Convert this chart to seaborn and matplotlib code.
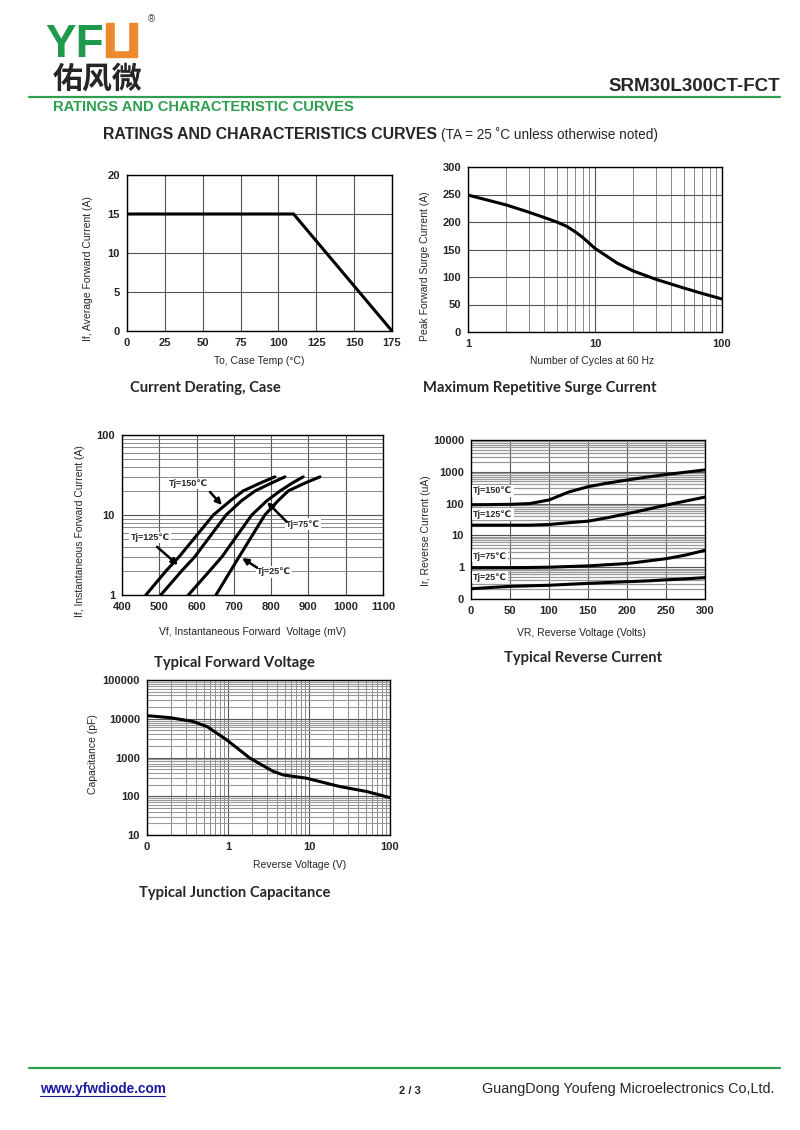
import numpy as np
import pandas as pd
import seaborn as sns
import matplotlib.pyplot as plt
from matplotlib.patches import Rectangle
from matplotlib.lines import Line2D
from matplotlib.ticker import LogLocator, NullFormatter

# ---- data ----
derate_temp = [0, 110, 175]
derate_current = [15, 15, 0]

surge_cycles = [1, 2, 3, 4, 5, 6, 7, 8, 10, 15, 20, 30, 50, 70, 100]
surge_current = [249, 231, 218, 208, 200, 192, 182, 172, 152, 125, 111, 96, 80, 70, 60]

fwd_amps = [1, 2, 3, 10, 15, 20, 25, 30]
fwd_mv_150 = [464, 518, 553, 645, 690, 725, 770, 810]
fwd_mv_125 = [504, 560, 595, 679, 720, 757, 800, 837]
fwd_mv_75 = [578, 635, 668, 748, 788, 824, 856, 886]
fwd_mv_25 = [652, 691, 714, 783, 818, 846, 890, 931]

rev_volts = [0, 25, 50, 75, 100, 125, 150, 175, 200, 225, 250, 275, 300]
rev_ua_150 = [92, 93, 95, 100, 130, 230, 340, 440, 550, 680, 820, 970, 1150]
rev_ua_125 = [21, 21, 21, 21, 22, 25, 28, 36, 48, 65, 90, 120, 160]
rev_ua_75 = [0.97, 0.97, 0.97, 0.98, 1.0, 1.05, 1.1, 1.2, 1.3, 1.55, 1.85, 2.4, 3.4]
rev_ua_25 = [0.21, 0.23, 0.25, 0.26, 0.27, 0.29, 0.31, 0.33, 0.35, 0.37, 0.40, 0.43, 0.47]

cap_volts = [0.1, 0.19, 0.37, 0.55, 0.96, 1.87, 3.6, 4.8, 9.3, 24, 52, 100]
cap_pf = [12000, 10700, 8500, 6300, 2870, 960, 440, 355, 292, 178, 132, 92]

sns.set_theme(style="white")
plt.rcParams['font.family'] = ['Liberation Sans', 'DejaVu Sans', 'Noto Sans CJK SC']

W, H = 800, 1130
fig = plt.figure(figsize=(8, 11.3), dpi=100)
GREEN = '#2e9e4f'


def box(l, t, r, b):
    return fig.add_axes([l / W, 1 - b / H, (r - l) / W, (b - t) / H])


def ftext(x, y, s, **kw):
    return fig.text(x / W, 1 - y / H, s, **kw)


def style(ax, xt, xl, yt, yl):
    ax.set_xticks(xt)
    ax.set_xticklabels(xl, fontsize=8, fontweight='bold')
    ax.set_yticks(yt)
    ax.set_yticklabels(yl, fontsize=8, fontweight='bold')
    ax.tick_params(which='both', length=0, pad=5)
    for s in ax.spines.values():
        s.set_visible(True)
        s.set_color('black')
        s.set_linewidth(1.0)
    ax.set_axisbelow(True)
    ax.grid(True, which='major', color='#555555', lw=0.8)
    ax.grid(True, which='minor', color='#777777', lw=0.6)


def logminor(axis):
    axis.set_minor_locator(LogLocator(base=10, subs=range(2, 10), numticks=20))
    axis.set_minor_formatter(NullFormatter())


def draw(ax, x, y):
    sns.lineplot(x=x, y=y, ax=ax, color='black', lw=2.2, estimator=None)


lab_kw = dict(fontsize=7.5)

# ---- header ----
ftext(45, 57, 'YF', fontsize=33, fontweight='bold', color='#1f9a4c', va='baseline')
fig.patches.append(Rectangle((106 / W, 1 - 57 / H), 31 / W, 34 / H, transform=fig.transFigure,
                             color='#ee8a2e', zorder=3))
fig.patches.append(Rectangle((115 / W, 1 - 50 / H), 13 / W, 28 / H, transform=fig.transFigure,
                             color='white', zorder=4))
ftext(148, 22, '®', fontsize=7, color='#444444', va='baseline')
ftext(53, 88, '佑风微', fontsize=21.5, fontweight='bold', family=['Noto Sans CJK SC'], va='baseline')
ftext(780, 91, 'SRM30L300CT-FCT', fontsize=13.5, fontweight='bold', ha='right', va='baseline')
fig.add_artist(Line2D([29 / W, 780 / W], [1 - 97 / H, 1 - 97 / H], color=GREEN, lw=1.6))
ftext(53, 111, 'RATINGS AND CHARACTERISTIC CURVES', fontsize=10.6, fontweight='bold',
      color=GREEN, va='baseline')
ftext(103, 139, 'RATINGS AND CHARACTERISTICS CURVES', fontsize=11.4, fontweight='bold', va='baseline')
ftext(441, 139, '(TA = 25 ˚C unless otherwise noted)', fontsize=9.8, va='baseline')

# ---- chart 1: current derating ----
ax1 = box(127, 175, 392, 331)
draw(ax1, derate_temp, derate_current)
ax1.set_xlim(0, 175)
ax1.set_ylim(0, 20)
style(ax1, range(0, 176, 25), [str(v) for v in range(0, 176, 25)],
      range(0, 21, 5), [str(v) for v in range(0, 21, 5)])
ax1.set_xlabel('To, Case Temp (°C)', **lab_kw)
ax1.set_ylabel('If, Average Forward Current (A)', **lab_kw)
ax1.xaxis.set_label_coords(0.5, -0.16)
ax1.yaxis.set_label_coords(-0.13, 0.4)

# ---- chart 2: surge current ----
ax2 = box(468, 167, 722, 332)
draw(ax2, surge_cycles, surge_current)
ax2.set_xscale('log')
ax2.set_xlim(1, 100)
ax2.set_ylim(0, 300)
logminor(ax2.xaxis)
style(ax2, [1, 10, 100], ['1', '10', '100'],
      range(0, 301, 50), [str(v) for v in range(0, 301, 50)])
ax2.set_xlabel('Number of Cycles at 60 Hz', **lab_kw)
ax2.set_ylabel('Peak Forward Surge Current (A)', **lab_kw)
ax2.xaxis.set_label_coords(0.49, -0.145)
ax2.yaxis.set_label_coords(-0.15, 0.4)

# ---- chart 3: forward voltage ----
ax3 = box(122, 435, 383, 595)
for mv in [fwd_mv_150, fwd_mv_125, fwd_mv_75, fwd_mv_25]:
    draw(ax3, mv, fwd_amps)
ax3.set_yscale('log')
ax3.set_xlim(400, 1100)
ax3.set_ylim(1, 100)
logminor(ax3.yaxis)
style(ax3, range(400, 1101, 100), [str(v) for v in range(400, 1101, 100)],
      [1, 10, 100], ['1', '10', '100'])
ax3.set_xlabel('Vf, Instantaneous Forward  Voltage (mV)', **lab_kw)
ax3.set_ylabel('If, Instantaneous Forward Current (A)', **lab_kw)
ax3.xaxis.set_label_coords(0.5, -0.2)
ax3.yaxis.set_label_coords(-0.14, 0.4)

arrow = dict(arrowstyle='-|>', lw=1.8, color='black', mutation_scale=9, shrinkA=0, shrinkB=0)
fwd_labels = [('Tj=150℃', (577, 25), (636, 19.4), (668, 13.3)),
              ('Tj=125℃', (475, 5.2), (494, 4.0), (550, 2.37)),
              ('Tj=75℃', (885, 7.7), (842, 8.2), (789, 14.5)),
              ('Tj=25℃', (807, 1.94), (762, 2.2), (722, 2.9))]
for txt, pos, tail, tip in fwd_labels:
    ax3.text(pos[0], pos[1], txt, fontsize=6.5, fontweight='bold', ha='center', va='center',
             bbox=dict(facecolor='white', edgecolor='none', pad=0.8), zorder=5)
    ax3.annotate('', xy=tip, xytext=tail, arrowprops=arrow, zorder=6)

# ---- chart 4: reverse current ----
ax4 = box(471, 440, 705, 599)
for ua in [rev_ua_150, rev_ua_125, rev_ua_75, rev_ua_25]:
    draw(ax4, rev_volts, ua)
ax4.set_yscale('log')
ax4.set_xlim(0, 300)
ax4.set_ylim(0.1, 10000)
logminor(ax4.yaxis)
style(ax4, range(0, 301, 50), [str(v) for v in range(0, 301, 50)],
      [0.1, 1, 10, 100, 1000, 10000], ['0', '1', '10', '100', '1000', '10000'])
ax4.grid(True, which='minor', axis='y', color='#999999', lw=0.9)
ax4.set_xlabel('VR, Reverse Voltage (Volts)', **lab_kw)
ax4.set_ylabel('Ir, Reverse Current (uA)', **lab_kw)
ax4.xaxis.set_label_coords(0.47, -0.18)
ax4.yaxis.set_label_coords(-0.17, 0.43)
for txt, yv in [('Tj=150℃', 250), ('Tj=125℃', 47), ('Tj=75℃', 2.24), ('Tj=25℃', 0.49)]:
    ax4.text(3, yv, txt, fontsize=6.5, fontweight='bold', ha='left', va='center',
             bbox=dict(facecolor='white', edgecolor='none', pad=0.8), zorder=5)

# ---- chart 5: junction capacitance ----
ax5 = box(147, 680, 390, 835)
draw(ax5, cap_volts, cap_pf)
ax5.set_xscale('log')
ax5.set_yscale('log')
ax5.set_xlim(0.1, 100)
ax5.set_ylim(10, 100000)
logminor(ax5.xaxis)
logminor(ax5.yaxis)
style(ax5, [0.1, 1, 10, 100], ['0', '1', '10', '100'],
      [10, 100, 1000, 10000, 100000], ['10', '100', '1000', '10000', '100000'])
ax5.grid(True, which='minor', axis='y', color='#999999', lw=0.8)
ax5.set_xlabel('Reverse Voltage (V)', **lab_kw)
ax5.set_ylabel('Capacitance (pF)', **lab_kw)
ax5.xaxis.set_label_coords(0.63, -0.16)
ax5.yaxis.set_label_coords(-0.2, 0.52)

# ---- captions ----
cap_kw = dict(fontsize=10.6, fontweight='bold', family=['Lato', 'DejaVu Sans'], va='baseline')
ftext(130, 392, 'Current Derating, Case', **cap_kw)
ftext(423, 392, 'Maximum Repetitive Surge Current', **cap_kw)
ftext(154, 667, 'Typical Forward Voltage', **cap_kw)
ftext(504, 662, 'Typical Reverse Current', **cap_kw)
ftext(139, 897, 'Typical Junction Capacitance', **cap_kw)

# ---- footer ----
fig.add_artist(Line2D([29 / W, 780 / W], [1 - 1068 / H, 1 - 1068 / H], color=GREEN, lw=1.6))
ftext(40, 1093, 'www.yfwdiode.com', fontsize=9.8, fontweight='bold', color='#1a1aa0', va='baseline')
fig.add_artist(Line2D([40 / W, 165 / W], [1 - 1096 / H, 1 - 1096 / H], color='#1a1aa0', lw=0.8))
ftext(399, 1094, '2 / 3', fontsize=8, fontweight='bold', va='baseline')
ftext(482, 1093, 'GuangDong Youfeng Microelectronics Co,Ltd.', fontsize=10.4, va='baseline')

plt.savefig('out.png', dpi=100)
plt.close()
